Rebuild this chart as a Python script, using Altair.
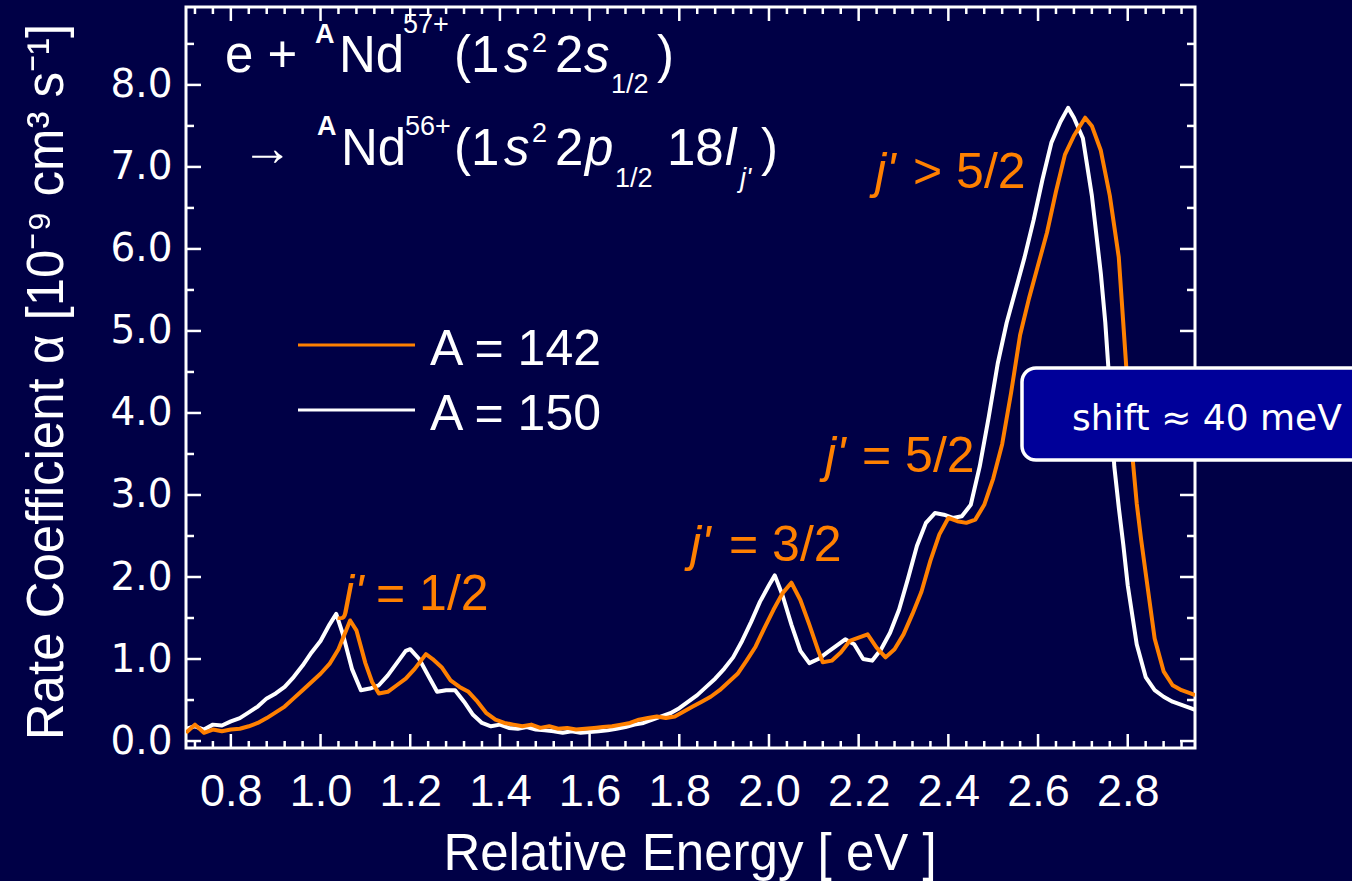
import altair as alt
import pandas as pd

# ---------------- data ----------------
energy_a150 = [0.70, 0.72, 0.74, 0.76, 0.78, 0.80, 0.82, 0.84, 0.86, 0.88, 0.90, 0.92, 0.94, 0.96, 0.98,
               1.00, 1.02, 1.035, 1.05, 1.07, 1.09, 1.11, 1.13, 1.15, 1.17, 1.19, 1.20, 1.22, 1.24, 1.26,
               1.28, 1.30, 1.32, 1.34, 1.36, 1.38, 1.40, 1.42, 1.44, 1.46, 1.48, 1.50, 1.52, 1.54, 1.56,
               1.58, 1.60, 1.62, 1.64, 1.66, 1.68, 1.70, 1.72, 1.74, 1.76, 1.78, 1.80, 1.82, 1.84, 1.86,
               1.88, 1.90, 1.92, 1.94, 1.96, 1.98, 2.00, 2.013, 2.03, 2.05, 2.07, 2.09, 2.11, 2.13, 2.15,
               2.17, 2.19, 2.21, 2.23, 2.25, 2.27, 2.29, 2.31, 2.33, 2.35, 2.37, 2.39, 2.41, 2.43, 2.45,
               2.47, 2.49, 2.51, 2.53, 2.55, 2.57, 2.59, 2.61, 2.63, 2.65, 2.667, 2.68, 2.70, 2.72, 2.74,
               2.75, 2.76, 2.77, 2.78, 2.79, 2.80, 2.82, 2.84, 2.86, 2.88, 2.90, 2.92, 2.94, 2.95]
rate_a150 = [0.15, 0.18, 0.14, 0.20, 0.19, 0.24, 0.28, 0.35, 0.42, 0.52, 0.58, 0.66, 0.78, 0.92, 1.08,
             1.22, 1.42, 1.55, 1.30, 0.88, 0.62, 0.64, 0.68, 0.80, 0.95, 1.10, 1.12, 1.00, 0.80, 0.60,
             0.62, 0.62, 0.48, 0.32, 0.22, 0.18, 0.20, 0.16, 0.15, 0.17, 0.14, 0.13, 0.12, 0.10, 0.12,
             0.10, 0.11, 0.12, 0.13, 0.15, 0.17, 0.20, 0.22, 0.26, 0.30, 0.34, 0.40, 0.48, 0.56, 0.66,
             0.76, 0.88, 1.02, 1.22, 1.45, 1.70, 1.90, 2.02, 1.78, 1.42, 1.10, 0.95, 1.00, 1.08, 1.16,
             1.24, 1.18, 1.00, 0.98, 1.12, 1.32, 1.60, 1.98, 2.38, 2.66, 2.78, 2.76, 2.72, 2.74, 2.88,
             3.35, 3.95, 4.60, 5.10, 5.50, 5.90, 6.35, 6.85, 7.30, 7.55, 7.72, 7.60, 7.35, 6.65, 5.70,
             5.10, 4.30, 3.35, 2.85, 2.40, 1.90, 1.18, 0.78, 0.62, 0.54, 0.48, 0.44, 0.40, 0.38]

energy_a142 = [0.70, 0.72, 0.74, 0.76, 0.78, 0.80, 0.82, 0.84, 0.86, 0.88, 0.90, 0.92, 0.94, 0.96, 0.98,
               1.00, 1.02, 1.04, 1.066, 1.08, 1.10, 1.115, 1.13, 1.15, 1.17, 1.19, 1.21, 1.235, 1.25, 1.27,
               1.29, 1.31, 1.33, 1.35, 1.37, 1.39, 1.41, 1.43, 1.45, 1.47, 1.49, 1.51, 1.53, 1.55, 1.57,
               1.59, 1.61, 1.63, 1.65, 1.67, 1.69, 1.71, 1.73, 1.75, 1.77, 1.79, 1.81, 1.83, 1.85, 1.87,
               1.89, 1.91, 1.93, 1.95, 1.97, 1.99, 2.01, 2.03, 2.05, 2.07, 2.09, 2.11, 2.12, 2.14, 2.16,
               2.18, 2.20, 2.22, 2.24, 2.26, 2.28, 2.30, 2.32, 2.34, 2.36, 2.38, 2.40, 2.42, 2.44, 2.46,
               2.48, 2.50, 2.52, 2.54, 2.56, 2.58, 2.60, 2.62, 2.64, 2.66, 2.68, 2.705, 2.72, 2.74, 2.76,
               2.78, 2.79, 2.80, 2.81, 2.82, 2.83, 2.84, 2.86, 2.88, 2.90, 2.92, 2.94, 2.95]
rate_a142 = [0.10, 0.20, 0.10, 0.14, 0.12, 0.14, 0.15, 0.18, 0.22, 0.28, 0.35, 0.42, 0.52, 0.62, 0.72,
             0.82, 0.94, 1.12, 1.47, 1.35, 0.95, 0.72, 0.58, 0.60, 0.68, 0.76, 0.88, 1.06, 1.00, 0.90,
             0.74, 0.66, 0.60, 0.48, 0.34, 0.26, 0.22, 0.20, 0.18, 0.20, 0.16, 0.18, 0.15, 0.16, 0.14,
             0.15, 0.16, 0.17, 0.18, 0.20, 0.22, 0.26, 0.28, 0.30, 0.28, 0.30, 0.36, 0.42, 0.48, 0.54,
             0.62, 0.72, 0.82, 0.98, 1.15, 1.38, 1.60, 1.80, 1.93, 1.72, 1.42, 1.10, 0.96, 0.98, 1.08,
             1.22, 1.26, 1.30, 1.14, 1.02, 1.12, 1.30, 1.55, 1.82, 2.20, 2.52, 2.72, 2.68, 2.66, 2.70,
             2.88, 3.20, 3.62, 4.25, 4.95, 5.40, 5.80, 6.20, 6.70, 7.15, 7.38, 7.60, 7.50, 7.20, 6.65,
             5.90, 5.10, 4.30, 3.50, 2.90, 2.45, 2.05, 1.25, 0.85, 0.68, 0.62, 0.58, 0.56]

x_major = [0.8, 1.0, 1.2, 1.4, 1.6, 1.8, 2.0, 2.2, 2.4, 2.6, 2.8]
x_minor = [0.72, 0.76, 0.84, 0.88, 0.92, 0.96, 1.04, 1.08, 1.12, 1.16, 1.24, 1.28, 1.32, 1.36,
           1.44, 1.48, 1.52, 1.56, 1.64, 1.68, 1.72, 1.76, 1.84, 1.88, 1.92, 1.96, 2.04, 2.08,
           2.12, 2.16, 2.24, 2.28, 2.32, 2.36, 2.44, 2.48, 2.52, 2.56, 2.64, 2.68, 2.72, 2.76,
           2.84, 2.88, 2.92]
y_major = [0, 1, 2, 3, 4, 5, 6, 7, 8]
y_minor = [0.5, 1.5, 2.5, 3.5, 4.5, 5.5, 6.5, 7.5, 8.5]

series_names = ["A = 142", "A = 150"]

# ---------------- styling ----------------
X_DOMAIN = [0.7, 2.95]
Y_DOMAIN = [-0.085, 8.95]
W, H = 1009, 741
OX, OY = 186, 7
BG = "#000046"
ORANGE = "#FF8000"
WHITE = "#FFFFFF"
BOXFILL = "#000099"
FONT = "Liberation Sans"
WIDE = "DejaVu Sans"

xs = alt.Scale(domain=X_DOMAIN, nice=False, zero=False)
ys = alt.Scale(domain=Y_DOMAIN, nice=False, zero=False)

x_axis = alt.Axis(values=x_major, format=".1f", title=None, ticks=False, domain=False, grid=False,
                  labelFont=FONT, labelFontSize=45, labelColor=WHITE, labelPadding=21,
                  labelOverlap=False, labelFlush=False, labelBound=False)
y_axis = alt.Axis(values=y_major, format=".1f", title=None, ticks=False, domain=False, grid=False,
                  labelFont=WIDE, labelFontSize=39, labelColor=WHITE, labelPadding=14,
                  labelOverlap=False, labelFlush=False, labelBound=False)

df150 = pd.DataFrame({"E": energy_a150, "R": rate_a150})
df142 = pd.DataFrame({"E": energy_a142, "R": rate_a142})

layers = []


def xticks(vals, length):
    d = pd.DataFrame({"v": vals})
    bot = alt.Chart(d).mark_rule(color=WHITE, strokeWidth=2.5).encode(
        x=alt.X("v:Q", scale=xs, axis=x_axis), y=alt.value(H), y2=alt.value(H - length))
    top = alt.Chart(d).mark_rule(color=WHITE, strokeWidth=2.5).encode(
        x=alt.X("v:Q", scale=xs, axis=x_axis), y=alt.value(0), y2=alt.value(length))
    return [bot, top]


def yticks(vals, length):
    d = pd.DataFrame({"v": vals})
    left = alt.Chart(d).mark_rule(color=WHITE, strokeWidth=2.5).encode(
        y=alt.Y("v:Q", scale=ys, axis=y_axis), x=alt.value(0), x2=alt.value(length))
    right = alt.Chart(d).mark_rule(color=WHITE, strokeWidth=2.5).encode(
        y=alt.Y("v:Q", scale=ys, axis=y_axis), x=alt.value(W), x2=alt.value(W - length))
    return [left, right]


layers += xticks(x_major, 14) + xticks(x_minor, 7) + yticks(y_major, 15) + yticks(y_minor, 8)

line150 = alt.Chart(df150).mark_line(color=WHITE, strokeWidth=4, clip=True, strokeJoin="round").encode(
    x=alt.X("E:Q", scale=xs, axis=x_axis), y=alt.Y("R:Q", scale=ys, axis=y_axis))
line142 = alt.Chart(df142).mark_line(color=ORANGE, strokeWidth=4, clip=True, strokeJoin="round").encode(
    x=alt.X("E:Q", scale=xs, axis=x_axis), y=alt.Y("R:Q", scale=ys, axis=y_axis))
layers += [line150, line142]

# legend (manual)
leg_colors = [ORANGE, WHITE]
leg_y = [345, 410]
for name, col, yy in zip(series_names, leg_colors, leg_y):
    layers.append(alt.Chart().mark_rule(color=col, strokeWidth=3).encode(
        x=alt.value(298 - OX), x2=alt.value(415 - OX), y=alt.value(yy - OY)))
    layers.append(alt.Chart().mark_text(text=name, font=FONT, fontSize=50, color=WHITE,
                                        align="left", baseline="alphabetic").encode(
        x=alt.value(430 - OX), y=alt.value(yy + 20 - OY)))


def piece(t, px, py, size, style="normal", weight="normal", color=WHITE, font=FONT, align="left", angle=0):
    return alt.Chart().mark_text(text=t, font=font, fontSize=size, fontStyle=style, fontWeight=weight,
                                 color=color, align=align, baseline="alphabetic", angle=angle).encode(
        x=alt.value(px - OX), y=alt.value(py - OY))


MAIN, SUP = 51, 27
formula = [
    ("e +", 225, 72, MAIN, "normal", "normal"),
    ("A", 315, 43, SUP, "normal", "bold"),
    ("Nd", 339, 72, MAIN, "normal", "normal"),
    ("57+", 403, 33, SUP, "normal", "normal"),
    ("(1", 454, 72, MAIN, "normal", "normal"),
    ("s", 504, 72, MAIN, "italic", "normal"),
    ("2", 532, 52, SUP, "normal", "normal"),
    ("2", 555, 72, MAIN, "normal", "normal"),
    ("s", 584, 72, MAIN, "italic", "normal"),
    ("1/2", 611, 93, SUP, "normal", "normal"),
    (")", 657, 72, MAIN, "normal", "normal"),
    ("\u2192", 242, 165, MAIN, "normal", "normal"),
    ("A", 317, 135, SUP, "normal", "bold"),
    ("Nd", 341, 165, MAIN, "normal", "normal"),
    ("56+", 405, 135, SUP, "normal", "normal"),
    ("(1", 454, 165, MAIN, "normal", "normal"),
    ("s", 504, 165, MAIN, "italic", "normal"),
    ("2", 532, 142, SUP, "normal", "normal"),
    ("2", 555, 165, MAIN, "normal", "normal"),
    ("p", 585, 165, MAIN, "italic", "normal"),
    ("1/2", 615, 187, SUP, "normal", "normal"),
    ("18", 667, 165, MAIN, "normal", "normal"),
    ("l", 725, 165, MAIN, "italic", "normal"),
    ("j'", 740, 187, SUP, "italic", "normal"),
    (")", 761, 165, MAIN, "normal", "normal"),
]
for t, px, py, s, st, wt in formula:
    layers.append(piece(t, px, py, s, st, wt))

LAB = 50
jlabels = [
    (343, 376, 610, "= 1/2"),
    (690, 729, 561, "= 3/2"),
    (825, 862, 472, "= 5/2"),
    (875, 913, 188, "> 5/2"),
]
for jx, rx, by, rest in jlabels:
    layers.append(piece("j'", jx, by, LAB, "italic", color=ORANGE))
    layers.append(piece(rest, rx, by, LAB, color=ORANGE))

# axis titles
layers.append(piece("Relative Energy [ eV ]", 690, 870, 51, align="center"))
layers.append(piece("Rate Coefficient \u03b1 [10\u207b\u2079 cm\u00b3 s\u207b\u00b9]", 63, 382, 51,
                    align="center", angle=270))

# shift box
layers.append(alt.Chart().mark_rect(fill=BOXFILL, stroke=WHITE, strokeWidth=3.5, cornerRadius=14).encode(
    x=alt.value(1022 - OX), x2=alt.value(1440 - OX), y=alt.value(368 - OY), y2=alt.value(460 - OY)))
layers.append(piece("shift \u2248 40 meV", 1072, 430, 36, font=WIDE))

chart = alt.layer(*layers).properties(
    width=W, height=H,
    padding={"left": OX, "top": OY, "right": 1352 - OX - W, "bottom": 881 - OY - H},
    autosize=alt.AutoSizeParams(type="none"),
    background=BG,
).configure_view(stroke=WHITE, strokeWidth=3)

chart.save("out.html", embed_options={"renderer": "svg", "actions": False})
